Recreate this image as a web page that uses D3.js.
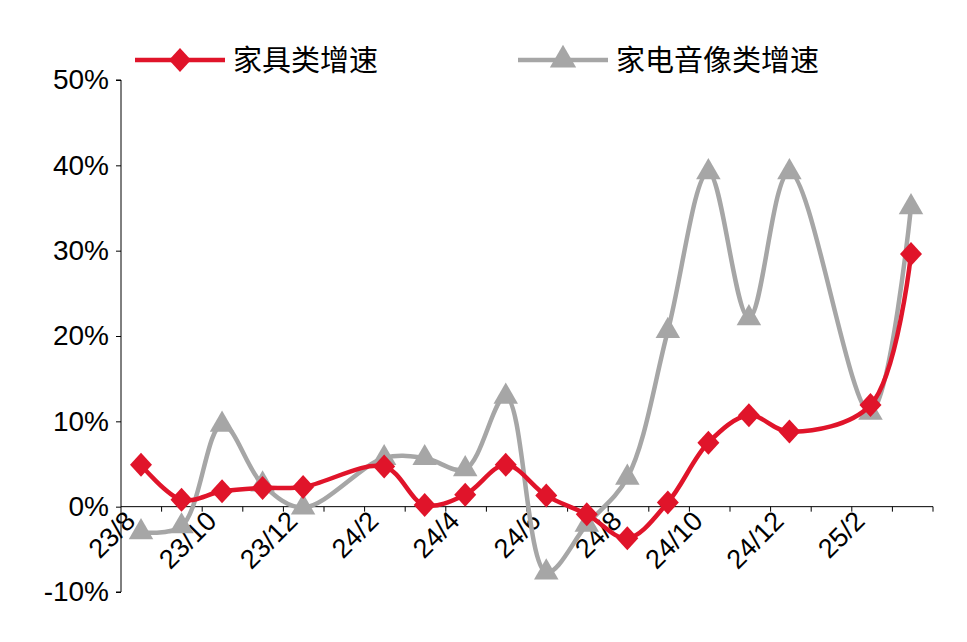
<!DOCTYPE html><html><head><meta charset="utf-8"><script src="https://cdn.jsdelivr.net/npm/d3@7"></script>
<style>body{margin:0;background:#fff}</style></head><body><svg id="c" width="967" height="642"></svg>
<script>
const categories=["23/8","23/9","23/10","23/11","23/12","24/1","24/2","24/3","24/4","24/5","24/6","24/7","24/8","24/9","24/10","24/11","24/12","25/1","25/2","25/3"];
const furniture=[4.9,0.8,1.8,2.2,2.3,null,4.7,0.2,1.4,4.9,1.3,-0.9,-3.7,0.5,7.5,10.7,8.8,null,11.9,29.6];
const appliance=[-3.0,-2.3,9.6,2.6,-0.1,null,5.7,5.7,4.4,12.9,-7.7,-2.1,3.4,20.6,39.2,22.1,39.2,null,11.0,35.1];
const yTicks=[-10,0,10,20,30,40,50];
const labelCats=["23/8","23/10","23/12","24/2","24/4","24/6","24/8","24/10","24/12","25/2"];
const names=["家具类增速","家电音像类增速"];
const svg=d3.select("#c");
const x=d3.scalePoint().domain(categories).range([141,911]);
const y=d3.scaleLinear().domain([-10,50]).range([592,80]);
const font="Arial, 'Liberation Sans', 'Noto Sans CJK SC', sans-serif";
const ya=svg.append("g").attr("transform","translate(121,0)").call(d3.axisLeft(y).tickValues(yTicks).tickFormat(d=>d+"%").tickSize(5));
ya.selectAll("text").attr("font-size",28).attr("font-family",font).attr("fill","#000").attr("dx","-4");
ya.selectAll("line,path").attr("stroke","#000");
ya.select(".domain").attr("d","M-5,80H0V592H-5");
const xa=svg.append("g").attr("transform",`translate(0,${y(0)})`);
xa.append("line").attr("x1",121).attr("x2",933).attr("stroke","#000");
categories.forEach((c,i)=>{const xx=121+(i+1)*40.6; xa.append("line").attr("x1",xx).attr("x2",xx).attr("y1",0).attr("y2",5).attr("stroke","#000");});
labelCats.forEach(c=>{xa.append("text").attr("transform",`translate(${x(c)-4},16) rotate(-45)`).attr("text-anchor","end").attr("font-size",27).attr("font-family",font).text(c);});
const diamond="M0,-12L11,0L0,12L-11,0Z";
function draw(vals,color,tri){
  const d=categories.map((c,i)=>({c,v:vals[i]})).filter(p=>p.v!=null);
  svg.append("path").datum(d).attr("fill","none").attr("stroke",color).attr("stroke-width",4.5)
    .attr("d",d3.line().x(p=>x(p.c)).y(p=>y(p.v)).curve(d3.curveCatmullRom.alpha(0.5)));
  svg.append("g").selectAll("path").data(d).join("path").attr("fill",color)
    .attr("transform",p=>`translate(${x(p.c)},${y(p.v)})`)
    .attr("d",tri?d3.symbol().type(d3.symbolTriangle).size(260)():diamond);
}
draw(appliance,"#a6a6a6",true);
draw(furniture,"#e0142a",false);
const lg=[{n:names[0],c:"#e0142a",t:false,x:135},{n:names[1],c:"#a6a6a6",t:true,x:518}];
lg.forEach(l=>{const g=svg.append("g");
 g.append("line").attr("x1",l.x).attr("x2",l.x+90).attr("y1",60).attr("y2",60).attr("stroke",l.c).attr("stroke-width",4.5);
 g.append("path").attr("transform",`translate(${l.x+45},60)`).attr("fill",l.c).attr("d",l.t?d3.symbol().type(d3.symbolTriangle).size(300)():diamond);
 g.append("text").attr("x",l.x+98).attr("y",71).attr("font-size",29).attr("font-family",font).text(l.n);});
</script></body></html>
